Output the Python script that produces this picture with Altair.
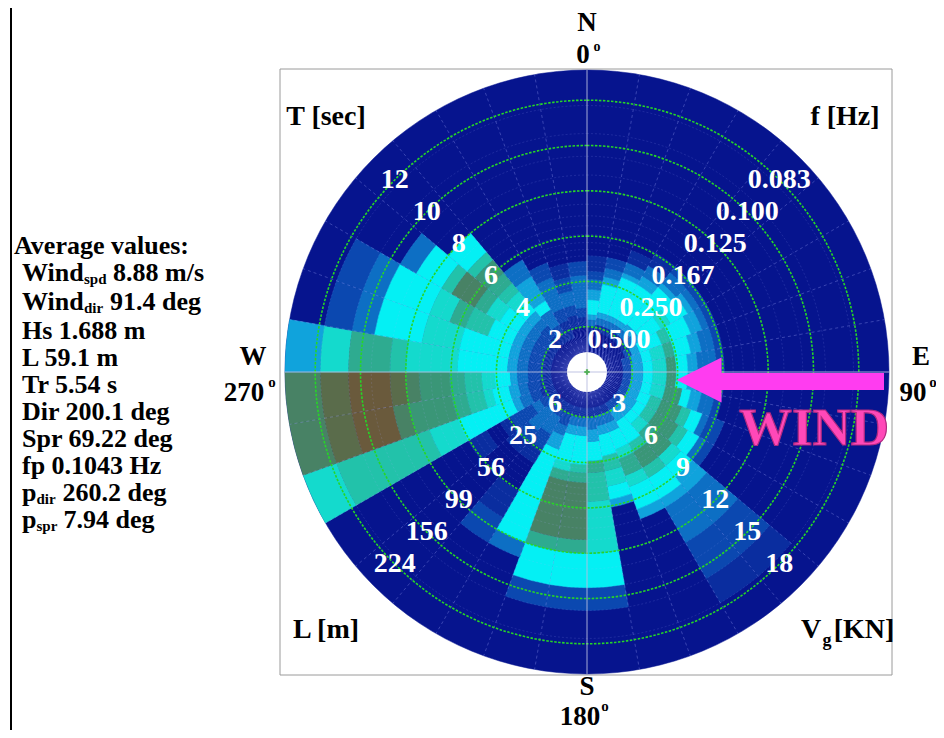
import numpy as np
import pandas as pd
import altair as alt

# ---------------- data ----------------
# direction bins (compass deg, 10 deg wide) and spectral level per frequency-bin run
sector_start = list(range(0, 360, 10))
# tokens "a-b:L" -> frequency bins a..b-1 (f = 0.075 + 0.01*k Hz) have colour level L
sector_profiles = [
    "12-15:1 15-17:2 17-20:3 20-24:4 24-32:5 32-36:4 36-42:3 42-48:1",
    "12-14:2 14-16:3 16-18:4 18-30:5 30-34:4 34-40:3 40-48:1",
    "10-12:1 12-14:3 14-15:4 15-30:5 30-34:4 34-40:3 40-48:1",
    "9-11:1 11-13:3 13-15:4 15-30:5 30-34:4 34-40:3 40-48:1",
    "9-10:2 10-12:3 12-13:4 13-29:5 29-34:4 34-40:3 40-48:1",
    "9-10:2 10-11:3 11-12:4 12-16:5 16-19:6 19-29:5 29-33:4 33-40:3 40-48:1",
    "9-10:2 10-11:3 11-13:4 13-18:5 18-21:7 21-33:5 33-40:4 40-48:2",
    "9-10:2 10-12:3 12-14:4 14-18:5 18-21:8 21-27:6 27-33:5 33-42:4 42-55:2",
    "9-10:2 10-13:3 13-15:4 15-18:5 18-21:9 21-27:6 27-33:5 33-44:4 44-55:2",
    "9-10:2 10-13:3 13-15:4 15-18:5 18-21:9 21-27:6 27-33:5 33-44:4 44-55:2",
    "9-10:2 10-12:3 12-14:4 14-16:5 16-21:9 21-27:6 27-33:5 33-44:4 44-55:2",
    "8-10:2 10-11:3 11-13:5 13-15:7 15-21:9 21-26:7 26-33:5 33-44:4 44-55:2",
    "8-9:2 9-10:3 10-12:5 12-14:7 14-21:9 21-26:7 26-32:5 32-44:4 44-55:2",
    "1-2:1 2-4:2 4-7:3 7-9:4 9-11:5 11-13:6 13-18:9 18-21:8 21-26:6 26-32:5 32-44:4 44-55:2",
    "1-2:1 2-4:2 4-7:3 7-8:4 8-11:5 11-13:7 13-17:9 17-20:7 20-32:5 32-44:4 44-55:2",
    "7-8:4 8-11:5 11-13:6 13-17:8 17-20:6 20-28:5 28-34:4 34-44:3 44-55:1",
    "9-10:4 10-12:5 12-15:6 15-19:7 19-28:5 28-34:4 34-44:3 44-55:1",
    "2-3:2 3-5:5 5-10:6 10-15:7 15-18:8 18-25:5 25-32:4 32-42:3 42-55:1",
    "2-3:2 3-5:5 5-6:8 6-13:10 13-15:8 15-17:7 17-28:5 28-34:4 34-42:3 42-55:1",
    "2-3:2 3-5:5 5-6:8 6-13:10 13-15:8 15-17:6 17-28:5 28-34:4 34-42:3 42-55:1",
    "4-5:3 5-20:5 20-26:4 26-32:3 32-42:2 42-55:1",
    "4-6:2 6-9:1 14-18:1 18-24:2 24-36:3 36-42:2 42-55:1",
    "14-17:1 17-22:2 22-36:3 36-42:2 42-55:1",
    "9-12:1 15-18:1 18-28:2 28-34:3 34-42:2 42-55:1",
    "0-1:6 1-6:7 6-9:6 9-21:5 21-24:4 24-30:3 30-38:2 38-55:1",
    "0-1:10 1-2:11 2-4:12 4-5:10 5-9:9 9-11:8 11-14:7 14-16:6 16-21:5 21-25:4 25-30:3 30-40:2 40-55:1",
    "0-1:10 1-2:11 2-4:12 4-5:11 5-6:10 6-9:9 9-11:8 11-14:7 14-17:6 17-22:5 22-25:4 25-31:3 31-42:2 42-55:1",
    "0-1:4 1-2:6 2-4:8 4-5:7 5-10:6 10-21:5 21-25:4 25-31:3 31-42:2 42-55:1",
    "1-2:2 2-3:3 3-6:5 6-10:6 10-21:5 21-25:4 25-31:3 31-42:2 42-55:1",
    "1-2:2 2-3:3 3-6:5 6-8:6 8-10:8 10-14:7 14-21:5 21-25:4 25-31:3 31-42:2 42-55:1",
    "3-4:3 4-6:5 6-7:7 7-10:10 10-12:8 12-15:6 15-21:5 21-25:4 25-31:3 31-42:2 42-55:1",
    "5-7:5 7-8:7 8-10:9 10-12:8 12-14:7 14-17:6 17-21:5 21-25:4 25-30:3 30-40:2 40-55:1",
    "10-13:3 13-20:4 20-24:5 24-34:3 34-42:2 42-55:1",
    "12-15:2 15-26:3 26-34:2 34-55:1",
    "13-16:1 16-20:2 20-26:3 26-32:2 32-42:1",
    "13-16:2 16-28:3 28-34:2 34-42:1",
]
levels = list(range(13))
level_colors = ["#06148e", "#0a2d9f", "#0b48b0", "#0d6fc4", "#10a3dc", "#04f0f4",
                "#14dacd", "#22c2aa", "#2eab90", "#3a9677", "#488265", "#5a6c4b", "#6a5a3c"]

f_start, f_step, n_bins = 0.075, 0.01, 105      # frequency grid [Hz]
t_hole = 0.885                                   # no data inside this period [s]
period_ticks = [2.0, 4.0, 6.0, 8.0, 10.0, 12.0]
period_labels = ["2", "4", "6", "8", "10", "12"]
freq_labels = ["0.500", "0.250", "0.167", "0.125", "0.100", "0.083"]
length_labels = ["6", "25", "56", "99", "156", "224"]
vg_labels = ["3", "6", "9", "12", "15", "18"]

stat_names = ["Wind", "Wind", "Hs", "L", "Tr", "Dir", "Spr", "fp", "p", "p"]
stat_subs = ["spd", "dir", "", "", "", "", "", "", "dir", "spr"]
stat_values = ["8.88 m/s", "91.4 deg", "1.688 m", "59.1 m", "5.54 s", "200.1 deg",
               "69.22 deg", "0.1043 Hz", "260.2 deg", "7.94 deg"]

# ---------------- layout ----------------
W, H = 928, 722
CX, CY = 579, 364
R_PX = 302.0
T_MAX = 1.0 / f_start
FONT = "Liberation Serif"

theta_scale = alt.Scale(domain=[0, 360], range=[0, 2 * np.pi])
r_scale = alt.Scale(type="linear", domain=[0, T_MAX], range=[0, R_PX], zero=True, nice=False)

f_edges = f_start + f_step * np.arange(n_bins + 1)
t_edges = 1.0 / f_edges

rows = [dict(d0=0, d1=360, t_out=T_MAX, t_in=0.0, lev=0)]
for s, prof in zip(sector_start, sector_profiles):
    for tok in prof.split():
        rng, lev = tok.split(":")
        a, b = (int(v) for v in rng.split("-"))
        rows.append(dict(d0=s, d1=s + 10, t_out=t_edges[a], t_in=t_edges[b], lev=int(lev)))
cells = pd.DataFrame(rows)

col_scale = alt.Scale(domain=levels, range=level_colors)
cells_layer = alt.Chart(cells).mark_arc(strokeWidth=0.5).encode(
    x=alt.value(CX), y=alt.value(CY),
    theta=alt.Theta("d0:Q", scale=theta_scale, stack=False),
    theta2=alt.Theta2("d1:Q"),
    radius=alt.Radius("t_out:Q", scale=r_scale, stack=False),
    radius2=alt.Radius2("t_in:Q"),
    color=alt.Color("lev:O", scale=col_scale, legend=None),
    stroke=alt.Stroke("lev:O", scale=col_scale, legend=None),
)


def circles(df, **mark):
    return alt.Chart(df).mark_arc(filled=False, **mark).encode(
        x=alt.value(CX), y=alt.value(CY),
        theta=alt.value(0), theta2=alt.value(2 * np.pi),
        radius=alt.Radius("t:Q", scale=r_scale, stack=False),
    )


rings = pd.DataFrame({"t": t_edges[1:n_bins]})
rings_layer = circles(rings, stroke="#aab0ff", strokeWidth=0.5, strokeDash=[2, 2], opacity=0.3)

spokes = pd.DataFrame({"ang": [a for a in range(0, 360, 10) if a % 90 != 0]})
spoke_layer = alt.Chart(spokes).transform_calculate(
    xa=f"{CX}", ya=f"{CY}",
    xb=f"{CX} + {R_PX}*sin(datum.ang*PI/180)",
    yb=f"{CY} - {R_PX}*cos(datum.ang*PI/180)",
).mark_rule(stroke="#aab0ff", strokeWidth=0.7, strokeDash=[3, 3], opacity=0.45).encode(
    x=alt.X("xa:Q", scale=None, axis=None), y=alt.Y("ya:Q", scale=None, axis=None),
    x2="xb:Q", y2="yb:Q",
)

green = pd.DataFrame({"t": period_ticks})
green_layer = circles(green, stroke="#26d626", strokeWidth=1.6, strokeDash=[2.5, 1.5])

hole = pd.DataFrame({"t": [t_hole]})
hole_layer = alt.Chart(hole).mark_arc(fill="white").encode(
    x=alt.value(CX), y=alt.value(CY), theta=alt.value(0), theta2=alt.value(2 * np.pi),
    radius=alt.Radius("t:Q", scale=r_scale, stack=False),
)

axes = pd.DataFrame({"ang": [0, 90]})
axes_layer = alt.Chart(axes).transform_calculate(
    xa=f"{CX} - {R_PX}*sin(datum.ang*PI/180)",
    ya=f"{CY} + {R_PX}*cos(datum.ang*PI/180)",
    xb=f"{CX} + {R_PX}*sin(datum.ang*PI/180)",
    yb=f"{CY} - {R_PX}*cos(datum.ang*PI/180)",
).mark_rule(stroke="#b8bce0", strokeWidth=0.9).encode(
    x=alt.X("xa:Q", scale=None, axis=None), y=alt.Y("ya:Q", scale=None, axis=None),
    x2="xb:Q", y2="yb:Q",
)

center_layer = alt.Chart(hole).mark_point(shape="cross", size=30, filled=True,
                                          color="#20a020").encode(
    x=alt.value(CX), y=alt.value(CY))

lab_rows = []
for T, a, b, c, d in zip(period_ticks, period_labels, freq_labels, length_labels, vg_labels):
    lab_rows += [dict(T=T, ang=315, lab=a), dict(T=T, ang=45, lab=b),
                 dict(T=T, ang=225, lab=c), dict(T=T, ang=135, lab=d)]
labs = pd.DataFrame(lab_rows)
polar_text = alt.Chart(labs).mark_text(
    font=FONT, fontWeight="bold", fontSize=28, color="white", align="center", baseline="middle"
).encode(
    x=alt.value(CX), y=alt.value(CY),
    theta=alt.Theta("ang:Q", scale=theta_scale, stack=False),
    radius=alt.Radius("T:Q", scale=r_scale, stack=False),
    text="lab:N",
)

# frame, left border, wind arrow
frame = alt.Chart(hole).mark_rect(filled=False, stroke="#9a9a9a", strokeWidth=1).encode(
    x=alt.value(272), x2=alt.value(884), y=alt.value(61), y2=alt.value(667))
border = alt.Chart(hole).mark_rule(stroke="black", strokeWidth=2).encode(
    x=alt.value(3), y=alt.value(0), y2=alt.value(H))
ARROW = "#ff3cf0"
shaft = alt.Chart(hole).mark_rect(color=ARROW).encode(
    x=alt.value(712), x2=alt.value(876), y=alt.value(365), y2=alt.value(382))
head = alt.Chart(hole).mark_point(shape="M -1 0 L 1 -1 L 1 1 Z", filled=True, size=2025,
                                  color=ARROW, opacity=1, strokeWidth=0).encode(
    x=alt.value(691), y=alt.value(372))

wind_text = alt.Chart(hole).mark_text(
    text="WIND", font=FONT, fontWeight="bold", fontSize=53, color="#ff48b8",
    stroke="#b02a80", strokeWidth=1.2, align="center", baseline="middle"
).encode(x=alt.value(806), y=alt.value(421))

annot = pd.DataFrame([
    ("N", 579, 15, 27), ("0", 575, 47, 27), ("o", 589, 39, 14),
    ("E", 913, 349, 27), ("90", 905, 385, 27), ("o", 925, 374, 15),
    ("S", 579, 679, 27), ("180", 572, 709, 27), ("o", 597, 698, 15),
    ("W", 245, 349, 27), ("270", 236, 385, 27), ("o", 264, 374, 15),
    ("T [sec]", 318, 109, 28), ("f [Hz]", 837, 109, 28), ("L [m]", 318, 622, 28),
    ("V", 803, 622, 28), ("g", 819, 633, 18), ("[KN]", 856, 622, 28),
], columns=["text", "x", "y", "size"])
annot_layer = alt.Chart(annot).mark_text(
    font=FONT, fontWeight="bold", color="black", align="center", baseline="middle"
).encode(
    x=alt.X("x:Q", scale=None, axis=None), y=alt.Y("y:Q", scale=None, axis=None),
    size=alt.Size("size:Q", scale=None, legend=None), text="text:N",
)

# stats block (left)
FS = 26
line_y = [265, 294, 323, 350, 377, 404, 431, 458, 485, 512]
name_w = {"Wind": 62, "p": 14.5}
sub_w = {"spd": 23, "dir": 20, "spr": 21}
pieces = [("Average values:", 6, 238, FS)]
for nm, sb, val, y in zip(stat_names, stat_subs, stat_values, line_y):
    if sb:
        pieces.append((nm, 14, y, FS))
        xs = 14 + name_w[nm]
        pieces.append((sb, xs, y + 6, 15))
        pieces.append((val, xs + sub_w[sb] + 6, y, FS))
    else:
        pieces.append((nm + " " + val, 14, y, FS))
stats = pd.DataFrame(pieces, columns=["text", "x", "y", "size"])
stats_layer = alt.Chart(stats).mark_text(
    font=FONT, fontWeight="bold", color="black", align="left", baseline="middle"
).encode(
    x=alt.X("x:Q", scale=None, axis=None), y=alt.Y("y:Q", scale=None, axis=None),
    size=alt.Size("size:Q", scale=None, legend=None), text="text:N",
)

chart = alt.layer(
    frame, border, cells_layer, rings_layer, spoke_layer, green_layer, hole_layer,
    axes_layer, center_layer, polar_text, shaft, head, wind_text,
    annot_layer, stats_layer,
).properties(
    width=W, height=H, padding=0, autosize=alt.AutoSizeParams(type="none"),
    background="white",
).configure_view(strokeWidth=0)

chart.save("out.html", embed_options={"renderer": "svg", "actions": False})
